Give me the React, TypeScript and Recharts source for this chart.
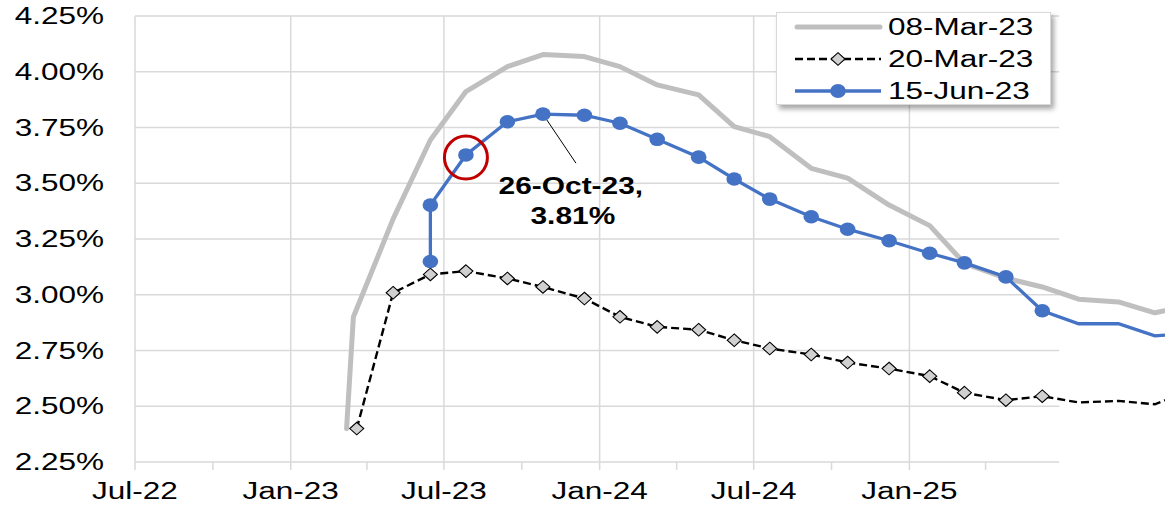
import React from 'react';
import {
  LineChart,
  Line,
  XAxis,
  YAxis,
  ReferenceLine,
  ReferenceDot,
  Legend,
} from 'recharts';

// meeting-dated points shared by the three curves
const MEETINGS = [
  '2023-05-02', '2023-06-15', '2023-07-27', '2023-09-14', '2023-10-26', '2023-12-14',
  '2024-01-25', '2024-03-09', '2024-04-27', '2024-06-08', '2024-07-20', '2024-09-07',
  '2024-10-20', '2024-12-08', '2025-01-25', '2025-03-07', '2025-04-25', '2025-06-07',
  '2025-07-20', '2025-09-05', '2025-10-18', '2025-10-30',
];

const MAR08_DATES = ['2023-03-08', '2023-03-16', ...MEETINGS];
const MAR08_VALUES = [
  2.40, 2.90, 3.34, 3.694, 3.911, 4.023, 4.077, 4.068, 4.023, 3.941, 3.896, 3.754,
  3.709, 3.567, 3.523, 3.402, 3.31, 3.141, 3.074, 3.035, 2.98, 2.968, 2.919, 2.928,
];

const MAR20_DATES = ['2023-03-20', ...MEETINGS];
const MAR20_VALUES = [
  2.40, 3.009, 3.091, 3.106, 3.073, 3.035, 2.983, 2.901, 2.856, 2.843, 2.796, 2.759,
  2.732, 2.696, 2.669, 2.635, 2.561, 2.527, 2.545, 2.517, 2.524, 2.509, 2.527,
];

const JUN15_DATES = ['2023-06-15', ...MEETINGS.slice(1)];
const JUN15_VALUES = [
  3.149, 3.402, 3.627, 3.776, 3.81, 3.805, 3.769, 3.697, 3.617, 3.519, 3.429, 3.35,
  3.294, 3.242, 3.186, 3.143, 3.08, 2.928, 2.87, 2.87, 2.816, 2.819,
];

const Y_TICKS = [2.25, 2.5, 2.75, 3.0, 3.25, 3.5, 3.75, 4.0, 4.25];
const X_TICKS = [
  '2022-07-01', '2022-10-01', '2023-01-01', '2023-04-01', '2023-07-01', '2023-10-01',
  '2024-01-01', '2024-04-01', '2024-07-01', '2024-10-01', '2025-01-01', '2025-04-01',
];
const V_GRID = ['2023-01-01', '2023-07-01', '2024-01-01', '2024-07-01', '2025-01-01'];
const MONTHS = ['Jan', 'Feb', 'Mar', 'Apr', 'May', 'Jun', 'Jul', 'Aug', 'Sep', 'Oct', 'Nov', 'Dec'];

const X_START = '2022-07-01';
const X_END = '2025-10-30';
const GRID_END = '2025-06-27';
const MARKER_END = '2025-06-30';

const FONT = '"Liberation Sans", Arial, sans-serif';
const GRID = '#d9d9d9';
const BLUE = '#4472c4';
const GREY = '#bfbfbf';
const STRETCH = 1.37;
const DASH = '8 4';

const ts = (d: string) => Date.parse(d + 'T00:00:00Z');
const mk = (dates: string[], vals: number[]) => dates.map((d, i) => ({ t: ts(d), v: vals[i] }));

const mar08 = mk(MAR08_DATES, MAR08_VALUES);
const mar20 = mk(MAR20_DATES, MAR20_VALUES);
const jun15 = mk(JUN15_DATES, JUN15_VALUES);

const xLabel = (v: number) => {
  const d = new Date(v);
  const m = d.getUTCMonth();
  if (m !== 0 && m !== 6) return '';
  return `${MONTHS[m]}-${String(d.getUTCFullYear()).slice(2)}`;
};

const YTick = ({ x, y, payload }: any) => (
  <text
    transform={`translate(${x},${y}) scale(${STRETCH},1)`}
    textAnchor="end"
    dy="0.355em"
    fontSize={23}
    fontFamily={FONT}
    fill="#000"
  >
    {payload.value.toFixed(2)}%
  </text>
);

const XTick = ({ x, y, payload }: any) => (
  <text
    transform={`translate(${x},${y}) scale(${STRETCH},1)`}
    textAnchor="middle"
    dy="0.71em"
    fontSize={23}
    fontFamily={FONT}
    fill="#000"
  >
    {xLabel(payload.value)}
  </text>
);

const showMarker = (p: any) => p.payload && p.payload.t <= ts(MARKER_END);

const BlueDot = (p: any) =>
  showMarker(p) ? (
    <ellipse key={`b-${p.index}`} cx={p.cx} cy={p.cy} rx={7.8} ry={6.8} fill={BLUE} />
  ) : (
    <g key={`b-${p.index}`} />
  );

const Diamond = (p: any) =>
  showMarker(p) ? (
    <polygon
      key={`d-${p.index}`}
      points={`${p.cx},${p.cy - 6.3} ${p.cx + 7},${p.cy} ${p.cx},${p.cy + 6.3} ${p.cx - 7},${p.cy}`}
      fill="#d0d0d0"
      stroke="#000"
      strokeWidth={1.1}
    />
  ) : (
    <g key={`d-${p.index}`} />
  );

const Annotation = (props: any) => {
  const vb = props.viewBox || {};
  const cx = vb.x + (vb.width || 0) / 2;
  const cy = vb.y + (vb.height || 0) / 2;
  return (
    <g fontFamily={FONT} fontWeight="bold" fontSize={23} fill="#000">
      <text transform={`translate(${cx},${cy}) scale(1.3,1)`} textAnchor="middle" dy="0.355em">
        26-Oct-23,
      </text>
      <text transform={`translate(${cx + 2},${cy + 30.5}) scale(1.3,1)`} textAnchor="middle" dy="0.355em">
        3.81%
      </text>
    </g>
  );
};

const LEGEND_ITEMS = [
  { name: '08-Mar-23', kind: 'grey' },
  { name: '20-Mar-23', kind: 'dash' },
  { name: '15-Jun-23', kind: 'blue' },
];

const LegendBox = () => (
  <div
    style={{
      width: 275,
      height: 93,
      background: '#fff',
      border: `1px solid ${GRID}`,
      boxShadow: '3px 4px 5px rgba(0,0,0,0.35)',
      boxSizing: 'border-box',
    }}
  >
    <svg width={273} height={91} style={{ display: 'block' }}>
      {LEGEND_ITEMS.map((item, i) => {
        const y = 14 + i * 32;
        return (
          <g key={item.name}>
            {item.kind === 'grey' && (
              <line x1={20} x2={103} y1={y} y2={y} stroke={GREY} strokeWidth={5} strokeLinecap="round" />
            )}
            {item.kind === 'dash' && (
              <>
                <line x1={18} x2={104} y1={y} y2={y} stroke="#000" strokeWidth={2.4} strokeDasharray={DASH} />
                <polygon
                  points={`61,${y - 6.3} 68,${y} 61,${y + 6.3} 54,${y}`}
                  fill="#d0d0d0"
                  stroke="#000"
                  strokeWidth={1.1}
                />
              </>
            )}
            {item.kind === 'blue' && (
              <>
                <line x1={18} x2={104} y1={y} y2={y} stroke={BLUE} strokeWidth={3.3} />
                <ellipse cx={61} cy={y} rx={7.8} ry={7} fill={BLUE} />
              </>
            )}
            <text
              transform={`translate(111,${y}) scale(${STRETCH},1)`}
              dy="0.355em"
              fontSize={23}
              fontFamily={FONT}
              fill="#000"
            >
              {item.name}
            </text>
          </g>
        );
      })}
    </svg>
  </div>
);

export default function App() {
  return (
    <div style={{ position: 'absolute', left: 0, top: 0, width: 1165, height: 506, background: '#fff' }}>
      <LineChart width={1165} height={506} margin={{ top: 16, right: 0, bottom: 0, left: 0 }}>
        <XAxis
          dataKey="t"
          type="number"
          domain={[ts(X_START), ts(X_END)]}
          allowDataOverflow
          ticks={X_TICKS.map(ts)}
          interval={0}
          height={44}
          axisLine={false}
          tickLine={{ stroke: GRID, strokeWidth: 1.5 }}
          tickSize={8}
          tickMargin={13}
          tick={<XTick />}
        />
        <YAxis
          type="number"
          domain={[2.25, 4.25]}
          allowDataOverflow
          ticks={Y_TICKS}
          interval={0}
          width={135}
          axisLine={{ stroke: GRID, strokeWidth: 1.5 }}
          tickLine={false}
          tickSize={0}
          tickMargin={31}
          tick={<YTick />}
        />
        {Y_TICKS.map((v) => (
          <ReferenceLine
            key={`h-${v}`}
            segment={[
              { x: ts(X_START), y: v },
              { x: ts(GRID_END), y: v },
            ]}
            stroke={GRID}
            strokeWidth={1.5}
          />
        ))}
        {V_GRID.map((d) => (
          <ReferenceLine key={`v-${d}`} x={ts(d)} stroke={GRID} strokeWidth={1.5} />
        ))}
        <Legend
          layout="vertical"
          align="center"
          verticalAlign="middle"
          content={<LegendBox />}
          wrapperStyle={{ position: 'absolute', left: 776, top: 12, width: 275, height: 93, margin: 0, padding: 0 }}
        />
        <Line
          data={mar08}
          dataKey="v"
          name="08-Mar-23"
          type="linear"
          stroke={GREY}
          strokeWidth={5}
          strokeLinejoin="round"
          strokeLinecap="round"
          dot={false}
          activeDot={false}
          isAnimationActive={false}
        />
        <Line
          data={mar20}
          dataKey="v"
          name="20-Mar-23"
          type="linear"
          stroke="#000"
          strokeWidth={2.4}
          strokeDasharray={DASH}
          dot={Diamond}
          activeDot={false}
          isAnimationActive={false}
        />
        <Line
          data={jun15}
          dataKey="v"
          name="15-Jun-23"
          type="linear"
          stroke={BLUE}
          strokeWidth={3.3}
          dot={BlueDot}
          activeDot={false}
          isAnimationActive={false}
        />
        <ReferenceLine
          segment={[
            { x: ts('2023-10-26'), y: 3.81 },
            { x: ts('2023-12-04'), y: 3.59 },
          ]}
          stroke="#000"
          strokeWidth={1}
        />
        <ReferenceDot
          x={ts('2023-07-27')}
          y={3.615}
          r={21.5}
          fill="none"
          stroke="#c00000"
          strokeWidth={3}
        />
        <ReferenceDot
          x={ts('2023-11-28')}
          y={3.49}
          r={1}
          fill="none"
          stroke="none"
          label={{ content: <Annotation /> }}
        />
      </LineChart>
    </div>
  );
}
